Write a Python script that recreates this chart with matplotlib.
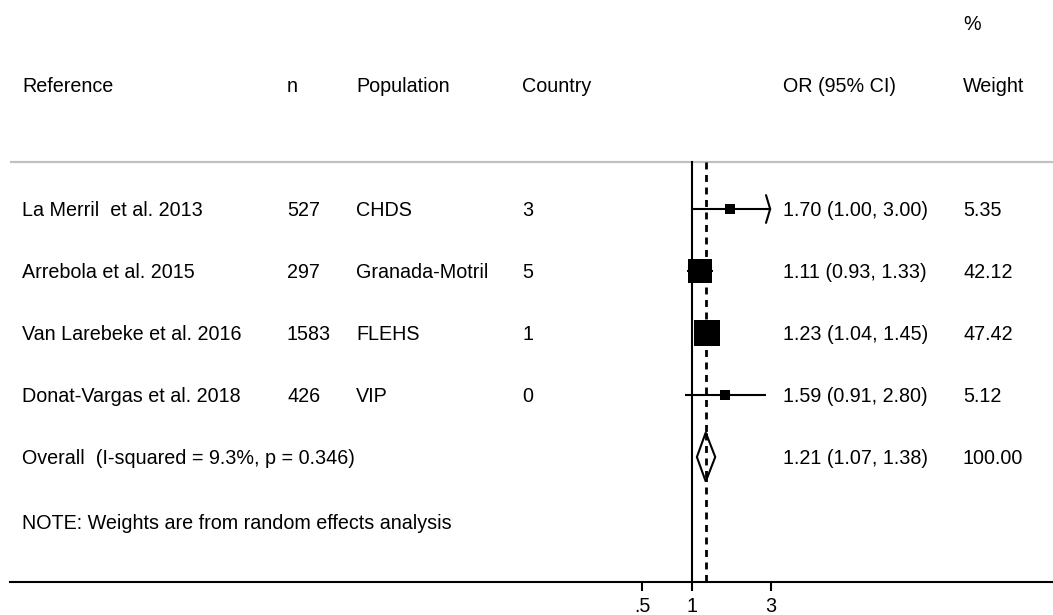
import numpy as np
import matplotlib
matplotlib.use('Agg')
import matplotlib.pyplot as plt
import matplotlib.transforms as mtransforms

plt.rcParams['font.family'] = ['Liberation Sans', 'DejaVu Sans']

# data
studies = ["La Merril  et al. 2013", "Arrebola et al. 2015",
           "Van Larebeke et al. 2016", "Donat-Vargas et al. 2018"]
n_obs = ["527", "297", "1583", "426"]
populations = ["CHDS", "Granada-Motril", "FLEHS", "VIP"]
countries = ["3", "5", "1", "0"]
odds = [1.70, 1.11, 1.23, 1.59]
ci_low = [1.00, 0.93, 1.04, 0.91]
ci_high = [3.00, 1.33, 1.45, 2.80]
weights = [5.35, 42.12, 47.42, 5.12]

overall_label = "Overall  (I-squared = 9.3%, p = 0.346)"
overall_or = 1.21
overall_lo = 1.07
overall_hi = 1.38
overall_weight = 100.00

note = "NOTE: Weights are from random effects analysis"
x_ticks = [0.5, 1, 3]
x_ticklabels = [".5", "1", "3"]
x_max = 3.0  # display limit, CIs beyond get an arrow

W, H = 1053, 615
fig = plt.figure(figsize=(W / 100, H / 100), dpi=100)

# axes: spans from x=10px to right edge, y from bottom line (582px) to top
ax = fig.add_axes([10 / W, (H - 582) / H, (W - 10) / W, 582 / H])
ax.set_xscale('log')
px_per_ln = 72.15
x0 = 692  # pixel of OR = 1
ax.set_xlim(np.exp((10 - x0) / px_per_ln), np.exp((W - x0) / px_per_ln))
row_px = 62
y_first = 209
ax.set_ylim((582 - y_first) / row_px, -y_first / row_px)

fs = 14.2

for s in ['top', 'left', 'right']:
    ax.spines[s].set_visible(False)
ax.spines['bottom'].set_linewidth(1.5)
ax.set_yticks([])
ax.set_xticks(x_ticks)
ax.set_xticklabels(x_ticklabels)
ax.xaxis.set_minor_locator(matplotlib.ticker.NullLocator())
ax.tick_params(axis='x', width=1.5, length=6.5, pad=4, labelsize=fs)

trans = mtransforms.blended_transform_factory(fig.transFigure, ax.transData)
# baseline sits about half a cap height below the row centre
trans = mtransforms.offset_copy(trans, fig=fig, y=-7, units='dots')
col_x = {'ref': 22, 'n': 287, 'pop': 356, 'cty': 522, 'or': 783, 'w': 963}


def put(col, y, s):
    ax.text(col_x[col] / W, y, s, transform=trans, ha='left', va='baseline',
            fontsize=fs, color='black')


# header
hdr_y = -2
put('ref', hdr_y, "Reference")
put('n', hdr_y, "n")
put('pop', hdr_y, "Population")
put('cty', hdr_y, "Country")
put('or', hdr_y, "OR (95% CI)")
put('w', hdr_y, "Weight")
put('w', -3.0, "%")

# gray separator under header
y_top = -0.758
ax.axhline(y_top, color='#c0c0c0', lw=1.6)

# reference lines
y_bot = (582 - y_first) / row_px
ax.plot([1, 1], [y_top, y_bot], color='black', lw=1.5)
ax.plot([overall_or, overall_or], [y_top, y_bot], color='black', lw=2,
        linestyle=(0, (2.5, 2.0)))

# studies
for i in range(len(studies)):
    hi = min(ci_high[i], x_max)
    ax.plot([ci_low[i], hi], [i, i], color='black', lw=1.5,
            solid_capstyle='butt')
    if ci_high[i] >= x_max:
        ax.annotate('', xy=(hi, i), xytext=(hi * 0.93, i),
                    arrowprops=dict(arrowstyle='->,head_length=0.3,head_width=1.0',
                                    lw=1.5, color='black', shrinkA=0, shrinkB=0))
    side_px = 3.5 * np.sqrt(weights[i]) + 2
    ax.plot(odds[i], i, marker='s', color='black', markersize=side_px * 0.72,
            markeredgewidth=0)
    put('ref', i, studies[i])
    put('n', i, n_obs[i])
    put('pop', i, populations[i])
    put('cty', i, countries[i])
    put('or', i, f"{odds[i]:.2f} ({ci_low[i]:.2f}, {ci_high[i]:.2f})")
    put('w', i, f"{weights[i]:.2f}")

# overall diamond
yo = len(studies)
half_h = 24.5 / row_px
ax.fill([overall_lo, overall_or, overall_hi, overall_or],
        [yo, yo - half_h, yo, yo + half_h],
        facecolor='white', edgecolor='black', lw=1.5, zorder=3)
ax.plot([overall_or, overall_or], [yo - half_h, yo + half_h], color='black', lw=2,
        linestyle=(0, (2.5, 2.0)), zorder=4)
put('ref', yo, overall_label)
put('or', yo, f"{overall_or:.2f} ({overall_lo:.2f}, {overall_hi:.2f})")
put('w', yo, f"{overall_weight:.2f}")

put('ref', (522 - y_first) / row_px, note)

fig.savefig('out.png', dpi=100)
